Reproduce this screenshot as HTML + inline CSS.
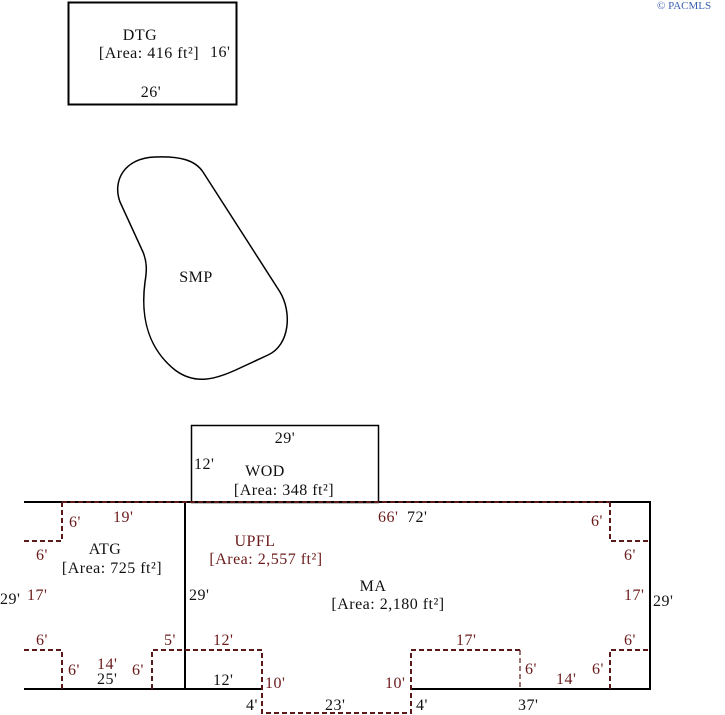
<!DOCTYPE html>
<html><head><style>
body{margin:0;background:#fff;}
svg{display:block}
text{font-family:"Liberation Serif",serif;font-size:16px;letter-spacing:0.5px;}
.k{fill:#111}
.r{fill:#6b1a1a}
</style></head><body>
<svg width="725" height="715" viewBox="0 0 725 715">
<text x="657" y="9" style="font-size:11px;letter-spacing:0;fill:#3a5fb0">© PACMLS</text>
<!-- DTG -->
<rect x="68.5" y="2.5" width="168" height="102" fill="none" stroke="#000" stroke-width="2"/>
<text class="k" x="140" y="40" text-anchor="middle">DTG</text>
<text class="k" x="149" y="58" text-anchor="middle">[Area: 416 ft²]</text>
<text class="k" x="210" y="57">16'</text>
<text class="k" x="151" y="97" text-anchor="middle">26'</text>
<!-- SMP -->
<path d="M120,202 C112,180 125,158 155,157 C180,156 195,160 203,172 L280,292 C292,312 290,345 268,355 L240,368 C215,380 195,385 175,370 C150,350 140,320 145,282 C147,270 147,262 143,252 Z" fill="none" stroke="#000" stroke-width="1.5"/>
<text class="k" x="196" y="282" text-anchor="middle">SMP</text>
<!-- WOD -->
<rect x="191.5" y="425.5" width="187" height="77" fill="none" stroke="#000" stroke-width="1.5"/>
<text class="k" x="285" y="443" text-anchor="middle">29'</text>
<text class="k" x="194" y="469">12'</text>
<text class="k" x="265" y="476" text-anchor="middle">WOD</text>
<text class="k" x="284" y="495" text-anchor="middle">[Area: 348 ft²]</text>
<!-- main solid -->
<g fill="none" stroke="#000" stroke-width="2">
<path d="M24,502 H650 V689 H411 M262,689 H24 Z"/>
<path d="M185,502 V689"/>
</g>
<!-- dashed -->
<g fill="none" stroke="#5a1a1a" stroke-width="2" stroke-dasharray="5,3">
<path d="M62,502 H610"/>
<path d="M62,502 V541 H24"/>
<path d="M24,650 H62 V689"/>
<path d="M152,689 V650 H262 V713 H411 V650 H520"/>
<path d="M520,650 V689" stroke-width="1.2"/>
<path d="M610,689 V650 H650"/>
<path d="M610,502 V541 H650"/>
</g>
<!-- labels -->
<text class="r" x="69" y="527">6'</text>
<text class="r" x="113" y="522">19'</text>
<text class="r" x="36" y="560">6'</text>
<text class="k" x="105" y="554" text-anchor="middle">ATG</text>
<text class="k" x="112" y="573" text-anchor="middle">[Area: 725 ft²]</text>
<text class="k" x="0" y="604">29'</text>
<text class="r" x="27" y="600">17'</text>
<text class="r" x="36" y="645">6'</text>
<text class="r" x="164" y="645">5'</text>
<text class="r" x="68" y="675">6'</text>
<text class="r" x="97" y="669">14'</text>
<text class="k" x="97" y="684">25'</text>
<text class="r" x="132" y="675">6'</text>
<text class="k" x="189" y="600">29'</text>
<text class="r" x="255" y="546" text-anchor="middle">UPFL</text>
<text class="r" x="266" y="564" text-anchor="middle">[Area: 2,557 ft²]</text>
<text class="k" x="373" y="591" text-anchor="middle">MA</text>
<text class="k" x="388" y="609" text-anchor="middle">[Area: 2,180 ft²]</text>
<text class="r" x="378" y="522">66'</text>
<text class="k" x="407" y="522">72'</text>
<text class="r" x="213" y="645">12'</text>
<text class="k" x="213" y="685">12'</text>
<text class="r" x="265" y="688">10'</text>
<text class="k" x="246" y="710">4'</text>
<text class="k" x="325" y="710">23'</text>
<text class="r" x="385" y="688">10'</text>
<text class="k" x="416" y="710">4'</text>
<text class="r" x="456" y="645">17'</text>
<text class="r" x="525" y="674">6'</text>
<text class="k" x="518" y="710">37'</text>
<text class="r" x="556" y="684">14'</text>
<text class="r" x="592" y="674">6'</text>
<text class="r" x="591" y="526">6'</text>
<text class="r" x="624" y="560">6'</text>
<text class="r" x="624" y="600">17'</text>
<text class="k" x="653" y="606">29'</text>
<text class="r" x="624" y="645">6'</text>
</svg>
</body></html>
